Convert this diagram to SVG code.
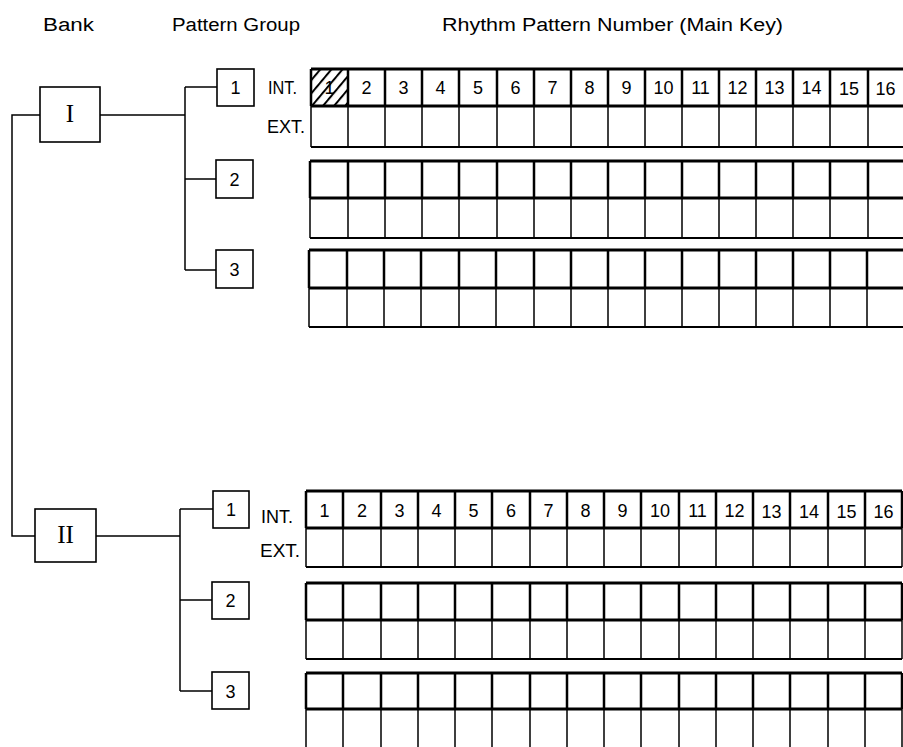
<svg xmlns="http://www.w3.org/2000/svg" width="903" height="747" viewBox="0 0 903 747">
<style>
.hdr{font-family:"Liberation Sans",Arial,sans-serif;font-size:18px;fill:#000}
.num{font-family:"Liberation Sans",Arial,sans-serif;font-size:18px;fill:#000;text-anchor:middle}
.lbl{font-family:"Liberation Sans",Arial,sans-serif;font-size:18px;fill:#000}
.rom{font-family:"Liberation Serif","Times New Roman",serif;font-size:25px;fill:#000;text-anchor:middle}
.box{fill:#fff;stroke:#000;stroke-width:1.6}
.conn{fill:none;stroke:#000;stroke-width:1.5}
.hv{fill:none;stroke:#000;stroke-width:3}
.vt{fill:none;stroke:#000;stroke-width:2.5}
.vb{fill:none;stroke:#000;stroke-width:1.5}
.bt{fill:none;stroke:#000;stroke-width:2}
</style>
<defs>
<pattern id="hatch" width="8.5" height="8.5" patternUnits="userSpaceOnUse" patternTransform="rotate(40)">
<line x1="1" y1="0" x2="1" y2="8.5" stroke="#000" stroke-width="2"/>
</pattern>
</defs>
<rect width="903" height="747" fill="#fff"/>

<g id="headers">
<text class="hdr" x="43" y="31" textLength="51" lengthAdjust="spacingAndGlyphs">Bank</text>
<text class="hdr" x="172" y="31" textLength="128" lengthAdjust="spacingAndGlyphs">Pattern Group</text>
<text class="hdr" x="442" y="31" textLength="341" lengthAdjust="spacingAndGlyphs">Rhythm Pattern Number (Main Key)</text>
</g>

<g id="connectors">
<path class="conn" d="M40 115 H12 V536 H35"/>
<path class="conn" d="M100 115 H185 M185 87 V270 M185 87 H217 M185 179 H217 M185 270 H217"/>
<path class="conn" d="M96 536 H180 M180 509 V691 M180 509 H213 M180 600 H213 M180 691 H213"/>
</g>

<g id="bank1">
<rect class="box" x="40" y="87" width="60" height="55"/>
<text class="rom" x="70" y="122">I</text>
</g>
<g id="bank2">
<rect class="box" x="35" y="509" width="61" height="53"/>
<text class="rom" x="65.5" y="543">II</text>
</g>

<g id="group1-1">
<rect class="box" x="217" y="69" width="37" height="37"/>
<text class="num" x="235.5" y="94">1</text>
</g>
<g id="group1-2">
<rect class="box" x="216" y="160" width="37" height="38"/>
<text class="num" x="234.5" y="186">2</text>
</g>
<g id="group1-3">
<rect class="box" x="216" y="250" width="37" height="38"/>
<text class="num" x="234.5" y="276">3</text>
</g>
<g id="group2-1">
<rect class="box" x="213" y="491" width="36" height="37"/>
<text class="num" x="231" y="516">1</text>
</g>
<g id="group2-2">
<rect class="box" x="212" y="582" width="37" height="37"/>
<text class="num" x="230.5" y="607">2</text>
</g>
<g id="group2-3">
<rect class="box" x="212" y="672" width="37" height="37"/>
<text class="num" x="230.5" y="698">3</text>
</g>

<g id="grid1-1">
<rect x="311" y="69" width="37" height="37" fill="url(#hatch)"/>
<path class="hv" d="M311 69 H905 M311 106 H905"/>
<path class="bt" d="M311 147 H905"/>
<path class="vt" d="M311 69 V106 M348 69 V106 M385 69 V106 M422 69 V106 M459 69 V106 M497 69 V106 M534 69 V106 M571 69 V106 M608 69 V106 M645 69 V106 M682 69 V106 M719 69 V106 M756 69 V106 M793 69 V106 M830 69 V106 M868 69 V106"/>
<path class="vb" d="M311 106 V147 M348 106 V147 M385 106 V147 M422 106 V147 M459 106 V147 M497 106 V147 M534 106 V147 M571 106 V147 M608 106 V147 M645 106 V147 M682 106 V147 M719 106 V147 M756 106 V147 M793 106 V147 M830 106 V147 M868 106 V147"/>
<text class="lbl" x="268" y="94" textLength="29" lengthAdjust="spacingAndGlyphs">INT.</text>
<text class="lbl" x="267" y="133" textLength="38" lengthAdjust="spacingAndGlyphs">EXT.</text>
<text class="num" x="329.5" y="94">1</text>
<text class="num" x="366.5" y="94">2</text>
<text class="num" x="403.5" y="94">3</text>
<text class="num" x="440.5" y="94">4</text>
<text class="num" x="478" y="94">5</text>
<text class="num" x="515.5" y="94">6</text>
<text class="num" x="552.5" y="94">7</text>
<text class="num" x="589.5" y="94">8</text>
<text class="num" x="626.5" y="94">9</text>
<text class="num" x="663.5" y="94">10</text>
<text class="num" x="700.5" y="94">11</text>
<text class="num" x="737.5" y="94">12</text>
<text class="num" x="774.5" y="94">13</text>
<text class="num" x="811.5" y="94">14</text>
<text class="num" x="849" y="95">15</text>
<text class="num" x="885.5" y="95">16</text>
</g>

<g id="grid1-2">
<path class="hv" d="M310 161 H905 M310 198 H905"/>
<path class="bt" d="M310 238 H905"/>
<path class="vt" d="M310 161 V198 M348 161 V198 M385 161 V198 M422 161 V198 M459 161 V198 M497 161 V198 M534 161 V198 M571 161 V198 M608 161 V198 M645 161 V198 M682 161 V198 M719 161 V198 M756 161 V198 M793 161 V198 M830 161 V198 M868 161 V198"/>
<path class="vb" d="M310 198 V238 M348 198 V238 M385 198 V238 M422 198 V238 M459 198 V238 M497 198 V238 M534 198 V238 M571 198 V238 M608 198 V238 M645 198 V238 M682 198 V238 M719 198 V238 M756 198 V238 M793 198 V238 M830 198 V238 M868 198 V238"/>
</g>

<g id="grid1-3">
<path class="hv" d="M309 250 H905 M309 288 H905"/>
<path class="bt" d="M309 327 H905"/>
<path class="vt" d="M309 250 V288 M347 250 V288 M384 250 V288 M421 250 V288 M459 250 V288 M496 250 V288 M534 250 V288 M571 250 V288 M608 250 V288 M645 250 V288 M682 250 V288 M719 250 V288 M756 250 V288 M793 250 V288 M830 250 V288 M867 250 V288"/>
<path class="vb" d="M309 288 V327 M347 288 V327 M384 288 V327 M421 288 V327 M459 288 V327 M496 288 V327 M534 288 V327 M571 288 V327 M608 288 V327 M645 288 V327 M682 288 V327 M719 288 V327 M756 288 V327 M793 288 V327 M830 288 V327 M867 288 V327"/>
</g>

<g id="grid2-1">
<path class="hv" d="M306 491 H902 M306 528 H902"/>
<path class="bt" d="M306 567 H902"/>
<path class="vt" d="M306 491 V528 M343 491 V528 M381 491 V528 M418 491 V528 M455 491 V528 M492 491 V528 M530 491 V528 M567 491 V528 M604 491 V528 M641 491 V528 M679 491 V528 M716 491 V528 M753 491 V528 M790 491 V528 M828 491 V528 M865 491 V528 M902 491 V528"/>
<path class="vb" d="M306 528 V567 M343 528 V567 M381 528 V567 M418 528 V567 M455 528 V567 M492 528 V567 M530 528 V567 M567 528 V567 M604 528 V567 M641 528 V567 M679 528 V567 M716 528 V567 M753 528 V567 M790 528 V567 M828 528 V567 M865 528 V567 M902 528 V567"/>
<text class="lbl" x="261" y="523" textLength="32" lengthAdjust="spacingAndGlyphs">INT.</text>
<text class="lbl" x="260" y="557" textLength="40" lengthAdjust="spacingAndGlyphs">EXT.</text>
<text class="num" x="324.5" y="517">1</text>
<text class="num" x="362" y="517">2</text>
<text class="num" x="399.5" y="517">3</text>
<text class="num" x="436.5" y="517">4</text>
<text class="num" x="473.5" y="517">5</text>
<text class="num" x="511" y="517">6</text>
<text class="num" x="548.5" y="517">7</text>
<text class="num" x="585.5" y="517">8</text>
<text class="num" x="622.5" y="517">9</text>
<text class="num" x="660" y="517">10</text>
<text class="num" x="697.5" y="517">11</text>
<text class="num" x="734.5" y="517">12</text>
<text class="num" x="771.5" y="518">13</text>
<text class="num" x="809" y="518">14</text>
<text class="num" x="846.5" y="518">15</text>
<text class="num" x="883.5" y="518">16</text>
</g>

<g id="grid2-2">
<path class="hv" d="M306 583 H902 M306 620 H902"/>
<path class="bt" d="M306 659 H902"/>
<path class="vt" d="M306 583 V620 M343 583 V620 M381 583 V620 M418 583 V620 M455 583 V620 M492 583 V620 M530 583 V620 M567 583 V620 M604 583 V620 M641 583 V620 M679 583 V620 M716 583 V620 M753 583 V620 M790 583 V620 M828 583 V620 M865 583 V620 M902 583 V620"/>
<path class="vb" d="M306 620 V659 M343 620 V659 M381 620 V659 M418 620 V659 M455 620 V659 M492 620 V659 M530 620 V659 M567 620 V659 M604 620 V659 M641 620 V659 M679 620 V659 M716 620 V659 M753 620 V659 M790 620 V659 M828 620 V659 M865 620 V659 M902 620 V659"/>
</g>

<g id="grid2-3">
<path class="hv" d="M306 673 H902 M306 709 H902"/>
<path class="vt" d="M306 673 V709 M343 673 V709 M381 673 V709 M418 673 V709 M455 673 V709 M492 673 V709 M530 673 V709 M567 673 V709 M604 673 V709 M641 673 V709 M679 673 V709 M716 673 V709 M753 673 V709 M790 673 V709 M828 673 V709 M865 673 V709 M902 673 V709"/>
<path class="vb" d="M306 709 V750 M343 709 V750 M381 709 V750 M418 709 V750 M455 709 V750 M492 709 V750 M530 709 V750 M567 709 V750 M604 709 V750 M641 709 V750 M679 709 V750 M716 709 V750 M753 709 V750 M790 709 V750 M828 709 V750 M865 709 V750 M902 709 V750"/>
</g>
</svg>
